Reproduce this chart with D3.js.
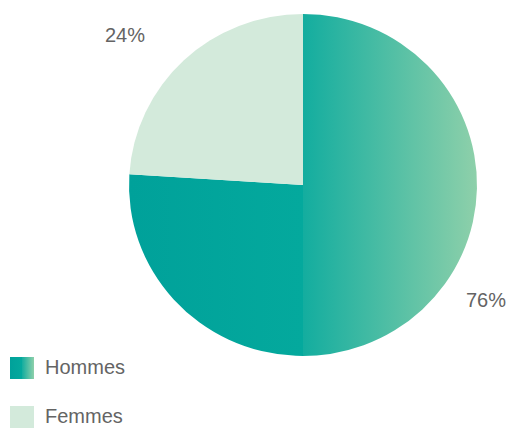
<!DOCTYPE html>
<html><head><meta charset="utf-8">
<script src="https://cdn.jsdelivr.net/npm/d3@7"></script>
<style>body{margin:0;background:#fff}svg{display:block}</style>
</head><body>
<script>
const categories = ["Hommes", "Femmes"];
const values = [76, 24];
const labels = ["76%", "24%"];

const W = 506, H = 428;
const svg = d3.select("body").append("svg").attr("width", W).attr("height", H);
const defs = svg.append("defs");
const stops = [[0, "#00a19a"], [0.5, "#04a99d"], [0.5, "#13ad9f"], [1, "#8ed0aa"]];
["gH", "gL"].forEach(id => {
  const gr = defs.append("linearGradient").attr("id", id).attr("x1", "0%").attr("x2", "100%").attr("y1", "0%").attr("y2", "0%");
  stops.forEach(([o, c]) => gr.append("stop").attr("offset", o).attr("stop-color", c));
});

const colors = d3.scaleOrdinal().domain(categories).range(["url(#gH)", "#d3eadb"]);
const legendColors = d3.scaleOrdinal().domain(categories).range(["url(#gL)", "#d3eadb"]);

const cx = 303, cy = 185, r = 171;
const pie = d3.pie().sort(null).value(d => d.v);
const arcs = pie(categories.map((c, i) => ({c, v: values[i], l: labels[i]})));
const arc = d3.arc().innerRadius(0).outerRadius(r);
const g = svg.append("g").attr("transform", `translate(${cx},${cy}) scale(${174/171},1)`);
g.selectAll("path").data(arcs).join("path")
  .attr("d", arc).attr("fill", d => colors(d.data.c));

const labelPos = {"Hommes": [466, 307], "Femmes": [105, 42]};
svg.selectAll("text.lbl").data(arcs).join("text").attr("class", "lbl")
  .attr("x", d => labelPos[d.data.c][0]).attr("y", d => labelPos[d.data.c][1])
  .attr("font-family", "Liberation Sans, Arial, sans-serif").attr("font-size", 20)
  .attr("fill", "#646464").text(d => d.data.l);

const lg = svg.append("g");
const items = lg.selectAll("g").data(categories).join("g")
  .attr("transform", (d, i) => `translate(10,${357 + i * 49})`);
items.append("rect").attr("width", 24).attr("height", 22).attr("fill", d => legendColors(d));
items.append("text").attr("x", 35).attr("y", 16.5)
  .attr("font-family", "Liberation Sans, Arial, sans-serif").attr("font-size", 20)
  .attr("fill", "#646464").text(d => d);
</script>
</body></html>
